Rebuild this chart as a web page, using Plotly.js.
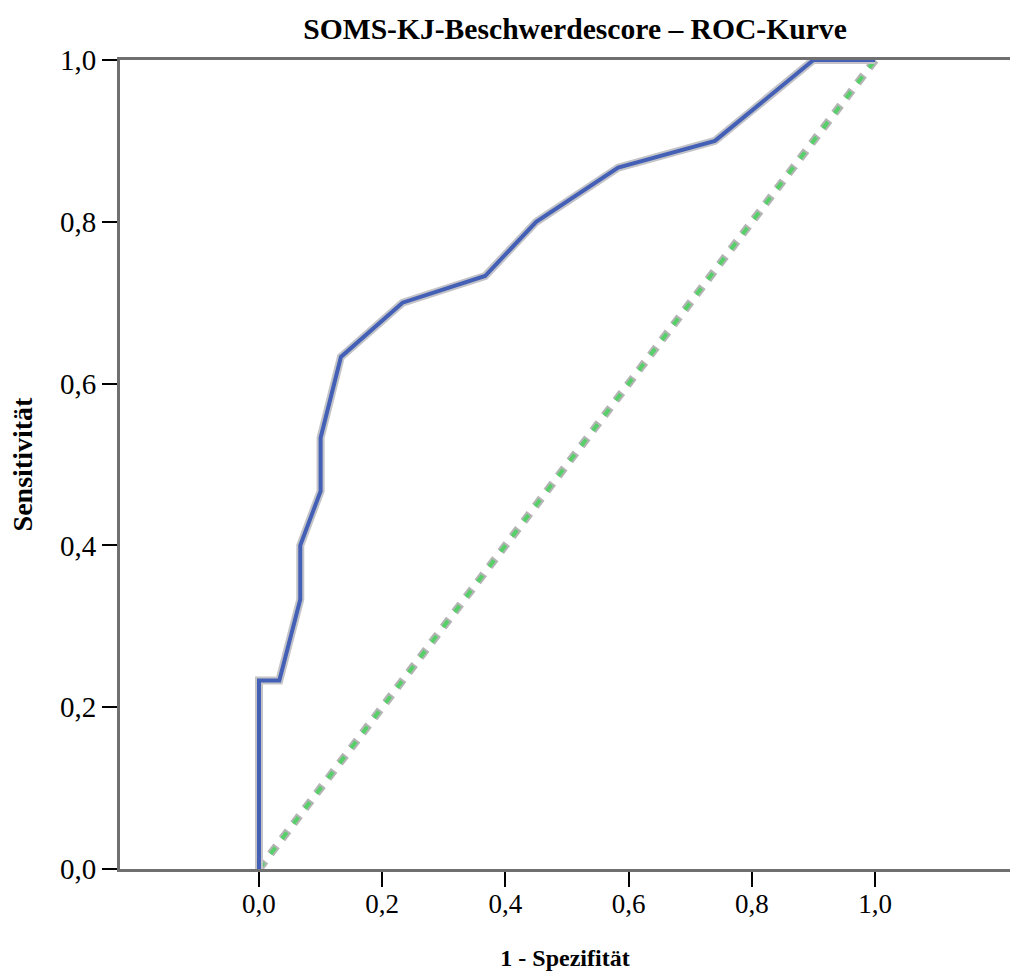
<!DOCTYPE html>
<html>
<head>
<meta charset="utf-8">
<script src="https://cdn.plot.ly/plotly-3.0.1.min.js"></script>
<style>html,body{margin:0;padding:0;background:#fff;}#chart{width:1010px;height:974px;}</style>
</head>
<body>
<div id="chart"></div>
<script>
// ROC curve: 1 - Spezifität (x) vs Sensitivität (y)
const rocFPR  = [0.000, 0.000, 0.033, 0.067, 0.067, 0.100, 0.100, 0.133, 0.233, 0.367, 0.450, 0.583, 0.740, 0.900, 1.000];
const rocTPR  = [0.000, 0.233, 0.233, 0.333, 0.400, 0.467, 0.533, 0.633, 0.700, 0.733, 0.800, 0.867, 0.900, 1.000, 1.000];
// Reference diagonal
const refX = [0, 1];
const refY = [0, 1];
const xTickVals = [0, 0.2, 0.4, 0.6, 0.8, 1.0];
const xTickText = ["0,0", "0,2", "0,4", "0,6", "0,8", "1,0"];
const yTickVals = [0, 0.2, 0.4, 0.6, 0.8, 1.0];
const yTickText = ["0,0", "0,2", "0,4", "0,6", "0,8", "1,0"];

const serif = "'Liberation Serif', 'Times New Roman', serif";

const traces = [
  {x: refX, y: refY, mode: "lines", line: {color: "#b4b4b4", width: 8, dash: "10px,9px"}, hoverinfo: "skip", cliponaxis: false},
  {x: refX, y: refY, mode: "lines", line: {color: "#58d06a", width: 4, dash: "8px,11px"}, hoverinfo: "skip", cliponaxis: false},
  {x: rocFPR, y: rocTPR, mode: "lines", line: {color: "#c4c4c8", width: 8}, hoverinfo: "skip", cliponaxis: false},
  {x: rocFPR, y: rocTPR, mode: "lines", line: {color: "#4360b6", width: 4}, cliponaxis: false}
];

const layout = {
  width: 1010, height: 974,
  margin: {l: 120, r: 0, t: 60, b: 105},
  paper_bgcolor: "#ffffff", plot_bgcolor: "#ffffff",
  showlegend: false,
  separators: ", ",
  font: {family: serif, color: "#000"},
  title: {text: "<b>SOMS-KJ-Beschwerdescore – ROC-Kurve</b>", font: {family: serif, size: 29.6, color: "#000"},
          x: 575/1010, xanchor: "center", xref: "container", y: 0.971, yanchor: "middle", yref: "container"},
  xaxis: {
    range: [-0.2256, 1.219], tickvals: xTickVals, ticktext: xTickText,
    showgrid: false, zeroline: false,
    showline: true, linecolor: "#707070", linewidth: 3, mirror: true,
    ticks: "outside", ticklen: 15, tickwidth: 2, tickcolor: "#000",
    ticklabelstandoff: -6,
    tickfont: {family: serif, size: 27, color: "#000"},
    title: {text: "<b>1 - Spezifität</b>", font: {family: serif, size: 24, color: "#000"}, standoff: 31},
    layer: "below traces"
  },
  yaxis: {
    range: [0, 1], tickvals: yTickVals, ticktext: yTickText,
    showgrid: false, zeroline: false,
    showline: true, linecolor: "#707070", linewidth: 3,
    ticks: "outside", ticklen: 15, tickwidth: 2, tickcolor: "#000",
    tickfont: {family: serif, size: 29, color: "#000"},
    title: {text: "<b>Sensitivität</b>", font: {family: serif, size: 28, color: "#000"}, standoff: 20},
    layer: "below traces"
  }
};

Plotly.newPlot("chart", traces, layout, {displayModeBar: false, staticPlot: true});
</script>
</body>
</html>
